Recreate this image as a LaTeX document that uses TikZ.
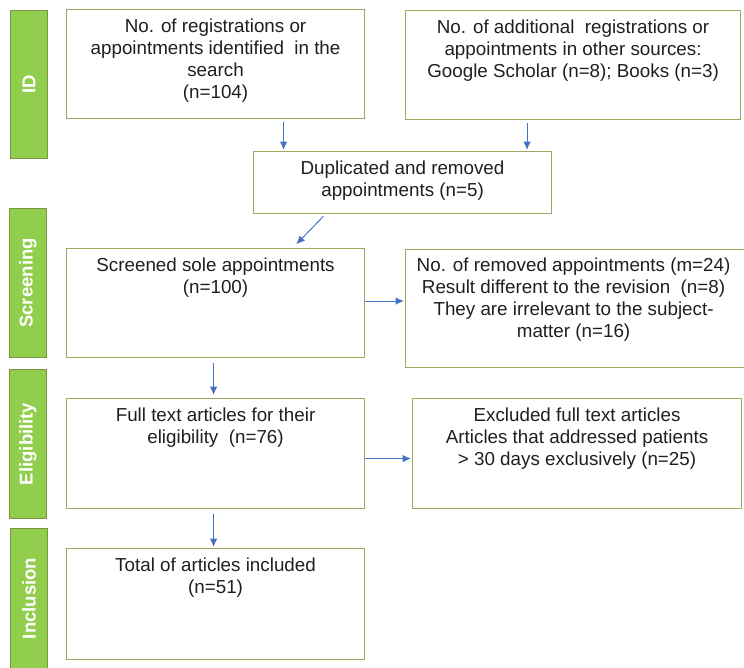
\documentclass[tikz,border=0pt]{standalone}
\usepackage{fontspec}
\setmainfont{Liberation Sans}
\usetikzlibrary{positioning,arrows.meta}
\definecolor{barGreen}{RGB}{146,206,78}
\definecolor{barEdge}{RGB}{122,150,62}
\definecolor{boxLine}{RGB}{160,168,96}
\definecolor{arrBlue}{RGB}{68,114,196}
\tikzset{
  box/.style={draw=boxLine, line width=1.1pt, anchor=north west, inner sep=0pt},
  txt/.style={align=center, inner sep=0pt, text=black!88, font=\fontsize{18.8}{22}\selectfont},
  bar/.style={fill=barGreen, draw=barEdge, line width=0.8pt, anchor=north west, inner sep=0pt, minimum width=37pt},
  barlbl/.style={rotate=90, text=white, font=\fontsize{18.5}{22}\selectfont\bfseries},
  arr/.style={draw=arrBlue, line width=1pt, -{Latex[length=8.5pt,width=7.5pt]}, shorten <=3pt, shorten >=1pt}
}
\begin{document}
\begin{tikzpicture}[x=1pt,y=-1pt]
\useasboundingbox (0,0) rectangle (744,667);
% stage bars
\node[bar, minimum height=148pt] (id) at (10,10) {};
\node[bar, minimum height=149pt] (scrbar) at (9,208) {};
\node[bar, minimum height=149pt] (eligbar) at (9,369) {};
\node[bar, minimum height=142pt] (inclbar) at (10,528) {};
\node[barlbl] (tid) at (id) {ID};
\node[barlbl] (tscr) at (scrbar) {Screening};
\node[barlbl] (telig) at (eligbar) {Eligibility};
\node[barlbl] (tincl) at ([yshift=1pt]inclbar) {Inclusion};

% boxes
\node[box, minimum width=298pt, minimum height=109pt] (a) at (66,9) {};
\node[box, minimum width=335pt, minimum height=109pt] (b) at (405,10) {};
\node[box, minimum width=298pt, minimum height=62pt] (dup) at (253,151) {};
\node[box, minimum width=298pt, minimum height=109pt] (scr) at (66,248) {};
\node[box, minimum width=340pt, minimum height=118pt] (rem) at (405,249) {};
\node[box, minimum width=329pt, minimum height=110pt] (excl) at (412,398) {};
\node[box, minimum width=298pt, minimum height=110pt] (full) at (66,398) {};
\node[box, minimum width=298pt, minimum height=111pt] (tot) at (66,548) {};

% texts
\node[txt, below=10pt of a.north] (ta) {No. of registrations or\\appointments identified \ in the\\search\\(n=104)};
\node[txt, below=10pt of b.north] (tb) {No. of additional \ registrations or\\appointments in other sources:\\Google Scholar (n=8); Books (n=3)};
\node[txt, below=10pt of dup.north] (tdup) {Duplicated and removed\\appointments (n=5)};
\node[txt, below=10pt of scr.north] (tscrd) {Screened sole appointments\\(n=100)};
\node[txt, below=9pt of rem.north, xshift=-2pt] (trem) {No. of removed appointments (m=24)\\Result different to the revision \ (n=8)\\They are irrelevant to the subject-\\matter (n=16)};
\node[txt, below=10pt of full.north] (tfull) {Full text articles for their\\eligibility \ (n=76)};
\node[txt, below=10pt of excl.north] (texcl) {Excluded full text articles\\Articles that addressed patients\\> 30 days exclusively (n=25)};
\node[txt, below=10pt of tot.north] (ttot) {Total of articles included\\(n=51)};

% arrows
\draw[arr] ([xshift=68pt]a.south) -- ([xshift=68pt]a.south |- dup.north);
\draw[arr] ([xshift=-46pt]b.south) -- ([xshift=-46pt]b.south |- dup.north);
\draw[arr] ([xshift=-77pt]dup.south) -- ([xshift=80pt,yshift=3pt]scr.north);
\draw[arr, shorten <=0pt] ([yshift=2pt]scr.east) -- ([yshift=2pt]scr.east -| rem.west);
\draw[arr, shorten <=5pt, shorten >=3pt] ([xshift=-2pt]scr.south) -- ([xshift=-2pt]full.north);
\draw[arr, shorten <=0pt] ([yshift=-5pt]full.east) -- ([yshift=-5pt]full.east -| excl.west);
\draw[arr, shorten <=5pt, shorten >=1pt] ([xshift=-2pt]full.south) -- ([xshift=-2pt]tot.north);
\end{tikzpicture}
\end{document}
